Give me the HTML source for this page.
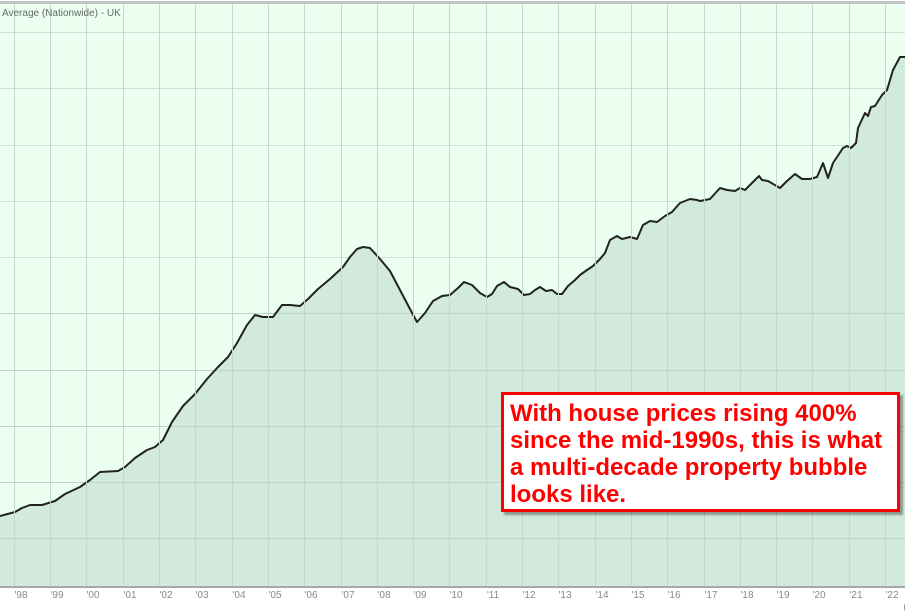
<!DOCTYPE html>
<html><head><meta charset="utf-8"><style>
body{margin:0;width:905px;height:613px;overflow:hidden;background:#fff;font-family:"Liberation Sans",sans-serif;position:relative}
svg{position:absolute;left:0;top:0}
.box{position:absolute;left:501px;top:392px;width:387px;height:109px;background:#fff;border:3px solid #f00;box-shadow:3px 3px 2px rgba(0,0,0,0.35);color:#f00;font-weight:bold;font-size:24px;line-height:27px;padding:5px 0 0 6px;box-sizing:content-box;white-space:nowrap}
</style></head><body>
<svg width="905" height="613" viewBox="0 0 905 613">
<rect x="0" y="3" width="905" height="584" fill="#ebfff1"/>
<rect x="0" y="1" width="905" height="3" fill="#c4c4c4"/>
<g stroke="#cfded5" stroke-width="1">
<line x1="0" y1="32.5" x2="905" y2="32.5"/><line x1="0" y1="88.5" x2="905" y2="88.5"/><line x1="0" y1="145.5" x2="905" y2="145.5"/><line x1="0" y1="201.5" x2="905" y2="201.5"/><line x1="0" y1="257.5" x2="905" y2="257.5"/><line x1="0" y1="313.5" x2="905" y2="313.5"/><line x1="0" y1="370.5" x2="905" y2="370.5"/><line x1="0" y1="426.5" x2="905" y2="426.5"/><line x1="0" y1="482.5" x2="905" y2="482.5"/><line x1="0" y1="538.5" x2="905" y2="538.5"/>
</g>
<path d="M0,516 L15,512 L22,508 L30,505 L42,505 L55,501 L65,494 L80,487 L90,480 L100,472 L118,471 L125,467 L135,458 L147,450 L155,447 L163,440 L172,422 L183,406 L195,394 L207,379 L218,367 L228,357 L237,343 L247,325 L255,315 L263,317 L273,317 L282,305 L290,305 L300,306 L308,299 L318,289 L330,279 L343,267 L350,257 L357,249 L363,247 L370,248 L380,259 L390,271 L400,290 L410,309 L417,322 L425,313 L433,301 L442,296 L450,295 L458,288 L464,282 L472,285 L480,293 L487,297 L492,294 L497,286 L504,282 L510,287 L518,289 L524,295 L530,294 L535,290 L540,287 L546,291 L552,290 L557,294 L562,294 L568,286 L575,280 L580,275 L587,270 L593,266 L600,259 L605,253 L610,240 L617,236 L622,239 L630,237 L637,239 L643,225 L650,221 L657,222 L665,216 L672,212 L680,203 L690,199 L697,200 L700,201 L710,199 L720,188 L727,190 L735,191 L740,188 L745,190 L752,183 L759,176 L762,180 L768,181 L780,188 L787,181 L795,174 L802,179 L810,179 L817,177 L823,163 L828,178 L833,163 L843,148 L847,146 L851,148 L856,143 L858,128 L865,113 L868,116 L871,107 L875,106 L882,95 L887,90 L893,70 L900,57 L905,57 L905,587 L0,587 Z" fill="#d2eadb"/>
<g stroke="#c0d2c7" stroke-width="1">
<line x1="0" y1="482.5" x2="905" y2="482.5"/><line x1="0" y1="538.5" x2="905" y2="538.5"/><line x1="0" y1="426.5" x2="905" y2="426.5"/><line x1="0" y1="370.5" x2="905" y2="370.5"/><line x1="0" y1="313.5" x2="905" y2="313.5"/>
</g>
<path d="M0,516 L15,512 L22,508 L30,505 L42,505 L55,501 L65,494 L80,487 L90,480 L100,472 L118,471 L125,467 L135,458 L147,450 L155,447 L163,440 L172,422 L183,406 L195,394 L207,379 L218,367 L228,357 L237,343 L247,325 L255,315 L263,317 L273,317 L282,305 L290,305 L300,306 L308,299 L318,289 L330,279 L343,267 L350,257 L357,249 L363,247 L370,248 L380,259 L390,271 L400,290 L410,309 L417,322 L425,313 L433,301 L442,296 L450,295 L458,288 L464,282 L472,285 L480,293 L487,297 L492,294 L497,286 L504,282 L510,287 L518,289 L524,295 L530,294 L535,290 L540,287 L546,291 L552,290 L557,294 L562,294 L568,286 L575,280 L580,275 L587,270 L593,266 L600,259 L605,253 L610,240 L617,236 L622,239 L630,237 L637,239 L643,225 L650,221 L657,222 L665,216 L672,212 L680,203 L690,199 L697,200 L700,201 L710,199 L720,188 L727,190 L735,191 L740,188 L745,190 L752,183 L759,176 L762,180 L768,181 L780,188 L787,181 L795,174 L802,179 L810,179 L817,177 L823,163 L828,178 L833,163 L843,148 L847,146 L851,148 L856,143 L858,128 L865,113 L868,116 L871,107 L875,106 L882,95 L887,90 L893,70 L900,57 L905,57" fill="none" stroke="#222" stroke-width="2" stroke-linejoin="round"/>
<g stroke="#c5d6cc" stroke-width="1">
<line x1="14.5" y1="4" x2="14.5" y2="587"/><line x1="50.5" y1="4" x2="50.5" y2="587"/><line x1="86.5" y1="4" x2="86.5" y2="587"/><line x1="123.5" y1="4" x2="123.5" y2="587"/><line x1="159.5" y1="4" x2="159.5" y2="587"/><line x1="195.5" y1="4" x2="195.5" y2="587"/><line x1="232.5" y1="4" x2="232.5" y2="587"/><line x1="268.5" y1="4" x2="268.5" y2="587"/><line x1="304.5" y1="4" x2="304.5" y2="587"/><line x1="341.5" y1="4" x2="341.5" y2="587"/><line x1="377.5" y1="4" x2="377.5" y2="587"/><line x1="413.5" y1="4" x2="413.5" y2="587"/><line x1="449.5" y1="4" x2="449.5" y2="587"/><line x1="486.5" y1="4" x2="486.5" y2="587"/><line x1="522.5" y1="4" x2="522.5" y2="587"/><line x1="558.5" y1="4" x2="558.5" y2="587"/><line x1="595.5" y1="4" x2="595.5" y2="587"/><line x1="631.5" y1="4" x2="631.5" y2="587"/><line x1="667.5" y1="4" x2="667.5" y2="587"/><line x1="704.5" y1="4" x2="704.5" y2="587"/><line x1="740.5" y1="4" x2="740.5" y2="587"/><line x1="776.5" y1="4" x2="776.5" y2="587"/><line x1="812.5" y1="4" x2="812.5" y2="587"/><line x1="849.5" y1="4" x2="849.5" y2="587"/><line x1="885.5" y1="4" x2="885.5" y2="587"/>
</g>
<rect x="0" y="586" width="905" height="2" fill="#a8a8a8"/>
<text x="2" y="16" font-size="10" fill="#666" font-family="Liberation Sans, sans-serif">Average (Nationwide) - UK</text>
<g font-size="10" fill="#888" font-family="Liberation Sans, sans-serif" text-anchor="middle">
<text x="21" y="598">'98</text><text x="57" y="598">'99</text><text x="93" y="598">'00</text><text x="130" y="598">'01</text><text x="166" y="598">'02</text><text x="202" y="598">'03</text><text x="239" y="598">'04</text><text x="275" y="598">'05</text><text x="311" y="598">'06</text><text x="348" y="598">'07</text><text x="384" y="598">'08</text><text x="420" y="598">'09</text><text x="456" y="598">'10</text><text x="493" y="598">'11</text><text x="529" y="598">'12</text><text x="565" y="598">'13</text><text x="602" y="598">'14</text><text x="638" y="598">'15</text><text x="674" y="598">'16</text><text x="711" y="598">'17</text><text x="747" y="598">'18</text><text x="783" y="598">'19</text><text x="819" y="598">'20</text><text x="856" y="598">'21</text><text x="892" y="598">'22</text>
<text x="905" y="610">(</text>
</g>
</svg>
<div class="box">With house prices rising 400%<br>since the mid-1990s, this is what<br>a multi-decade property bubble<br>looks like.</div>
</body></html>
